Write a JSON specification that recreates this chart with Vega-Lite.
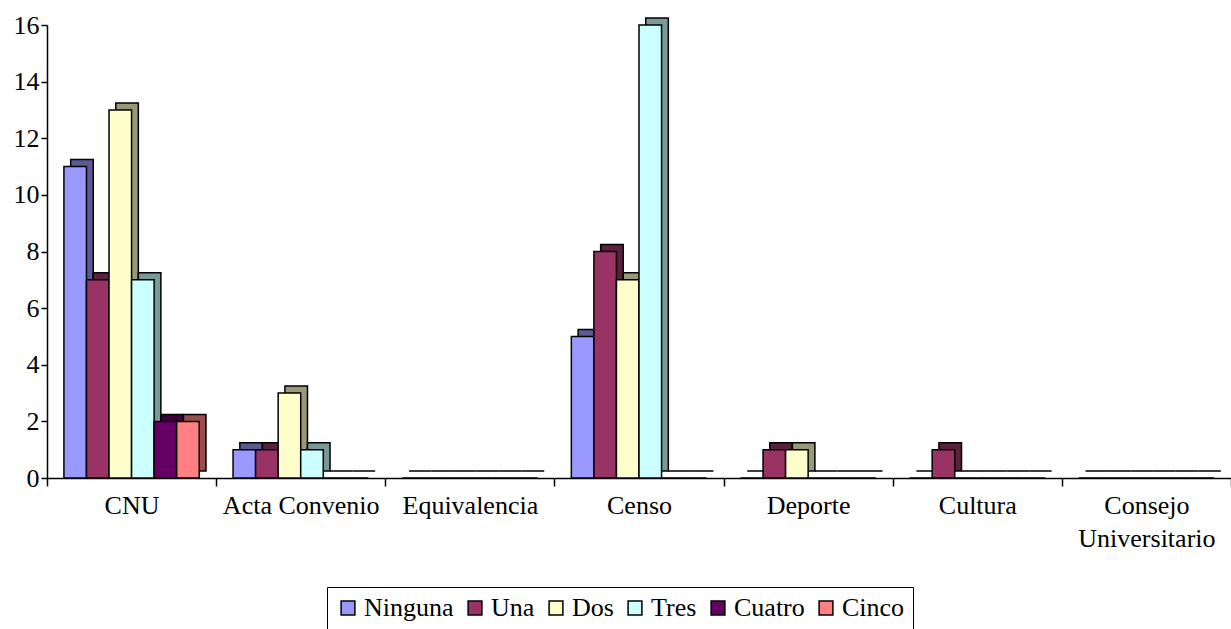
{
  "$schema": "https://vega.github.io/schema/vega-lite/v6.json",
  "width": 1184,
  "height": 453,
  "autosize": "none",
  "padding": {"left": 47, "top": 25, "right": 0, "bottom": 151},
  "background": "white",
  "config": {
    "view": {"stroke": null},
    "font": "Liberation Serif",
    "axis": {"grid": false, "domainColor": "black", "tickColor": "black", "labelColor": "black", "labelFont": "Liberation Serif", "labelFontSize": 26, "domainWidth": 1.5, "tickWidth": 1.5},
    "legend": {"labelFont": "Liberation Serif", "labelFontSize": 26, "labelColor": "black"}
  },
  "data": {
    "values": [
      {"tema": "CNU", "serie": "Ninguna", "valor": 11},
      {"tema": "CNU", "serie": "Una", "valor": 7},
      {"tema": "CNU", "serie": "Dos", "valor": 13},
      {"tema": "CNU", "serie": "Tres", "valor": 7},
      {"tema": "CNU", "serie": "Cuatro", "valor": 2},
      {"tema": "CNU", "serie": "Cinco", "valor": 2},
      {"tema": "Acta Convenio", "serie": "Ninguna", "valor": 1},
      {"tema": "Acta Convenio", "serie": "Una", "valor": 1},
      {"tema": "Acta Convenio", "serie": "Dos", "valor": 3},
      {"tema": "Acta Convenio", "serie": "Tres", "valor": 1},
      {"tema": "Acta Convenio", "serie": "Cuatro", "valor": 0},
      {"tema": "Acta Convenio", "serie": "Cinco", "valor": 0},
      {"tema": "Equivalencia", "serie": "Ninguna", "valor": 0},
      {"tema": "Equivalencia", "serie": "Una", "valor": 0},
      {"tema": "Equivalencia", "serie": "Dos", "valor": 0},
      {"tema": "Equivalencia", "serie": "Tres", "valor": 0},
      {"tema": "Equivalencia", "serie": "Cuatro", "valor": 0},
      {"tema": "Equivalencia", "serie": "Cinco", "valor": 0},
      {"tema": "Censo", "serie": "Ninguna", "valor": 5},
      {"tema": "Censo", "serie": "Una", "valor": 8},
      {"tema": "Censo", "serie": "Dos", "valor": 7},
      {"tema": "Censo", "serie": "Tres", "valor": 16},
      {"tema": "Censo", "serie": "Cuatro", "valor": 0},
      {"tema": "Censo", "serie": "Cinco", "valor": 0},
      {"tema": "Deporte", "serie": "Ninguna", "valor": 0},
      {"tema": "Deporte", "serie": "Una", "valor": 1},
      {"tema": "Deporte", "serie": "Dos", "valor": 1},
      {"tema": "Deporte", "serie": "Tres", "valor": 0},
      {"tema": "Deporte", "serie": "Cuatro", "valor": 0},
      {"tema": "Deporte", "serie": "Cinco", "valor": 0},
      {"tema": "Cultura", "serie": "Ninguna", "valor": 0},
      {"tema": "Cultura", "serie": "Una", "valor": 1},
      {"tema": "Cultura", "serie": "Dos", "valor": 0},
      {"tema": "Cultura", "serie": "Tres", "valor": 0},
      {"tema": "Cultura", "serie": "Cuatro", "valor": 0},
      {"tema": "Cultura", "serie": "Cinco", "valor": 0},
      {"tema": "Consejo Universitario", "serie": "Ninguna", "valor": 0},
      {"tema": "Consejo Universitario", "serie": "Una", "valor": 0},
      {"tema": "Consejo Universitario", "serie": "Dos", "valor": 0},
      {"tema": "Consejo Universitario", "serie": "Tres", "valor": 0},
      {"tema": "Consejo Universitario", "serie": "Cuatro", "valor": 0},
      {"tema": "Consejo Universitario", "serie": "Cinco", "valor": 0}
    ]
  },
  "encoding": {
    "x": {
      "field": "tema",
      "type": "nominal",
      "sort": ["CNU", "Acta Convenio", "Equivalencia", "Censo", "Deporte", "Cultura", "Consejo Universitario"],
      "scale": {"paddingInner": 0, "paddingOuter": 0},
      "axis": {"title": null, "labelAngle": 0, "tickBand": "extent", "tickSize": 8, "labelPadding": 6, "labelLimit": 300,
        "labelFont": "Liberation Serif", "labelFontSize": 26,
        "labelExpr": "datum.value == 'Consejo Universitario' ? ['Consejo', 'Universitario'] : datum.value", "labelLineHeight": 33}
    },
    "y": {
      "field": "valor",
      "type": "quantitative",
      "scale": {"domain": [0, 16]},
      "axis": {"title": null, "values": [0, 2, 4, 6, 8, 10, 12, 14, 16], "tickSize": 6, "labelPadding": 2, "labelFont": "Liberation Serif", "labelFontSize": 26}
    }
  },
  "layer": [
    {
      "mark": {"type": "bar", "yOffset": -7, "stroke": "black", "strokeWidth": 1.5},
      "encoding": {
        "xOffset": {
          "field": "serie",
          "type": "nominal",
          "sort": ["Ninguna", "Una", "Dos", "Tres", "Cuatro", "Cinco"],
          "scale": {"paddingInner": 0, "paddingOuter": 0.75, "align": 0.7}
        },
        "fill": {
          "field": "serie",
          "type": "nominal",
          "sort": ["Ninguna", "Una", "Dos", "Tres", "Cuatro", "Cinco"],
          "scale": {"domain": ["Ninguna", "Una", "Dos", "Tres", "Cuatro", "Cinco"], "range": ["#5A5A99", "#5C1F3D", "#99997A", "#7A9999", "#3D003D", "#994D4D"]},
          "legend": null
        }
      }
    },
    {
      "mark": {"type": "bar", "stroke": "black", "strokeWidth": 1.5},
      "encoding": {
        "xOffset": {
          "field": "serie",
          "type": "nominal",
          "sort": ["Ninguna", "Una", "Dos", "Tres", "Cuatro", "Cinco"],
          "scale": {"paddingInner": 0, "paddingOuter": 0.75, "align": 0.5}
        },
        "color": {
          "field": "serie",
          "type": "nominal",
          "sort": ["Ninguna", "Una", "Dos", "Tres", "Cuatro", "Cinco"],
          "scale": {"domain": ["Ninguna", "Una", "Dos", "Tres", "Cuatro", "Cinco"], "range": ["#9999FF", "#993366", "#FFFFCC", "#CCFFFF", "#660066", "#FF8080"]},
          "legend": {
            "title": null,
            "orient": "none",
            "legendX": 280,
            "legendY": 562,
            "direction": "horizontal",
            "columns": 6,
            "symbolType": "square",
            "symbolSize": 190,
            "symbolStrokeColor": "black",
            "symbolStrokeWidth": 1.5,
            "labelFont": "Liberation Serif",
            "labelFontSize": 26,
            "labelColor": "black",
            "labelOffset": 3,
            "columnPadding": 8,
            "padding": 8,
            "strokeColor": "black"
          }
        }
      }
    }
  ],
  "resolve": {"scale": {"xOffset": "independent", "fill": "independent", "color": "independent"}, "legend": {"fill": "independent", "color": "independent"}}
}
